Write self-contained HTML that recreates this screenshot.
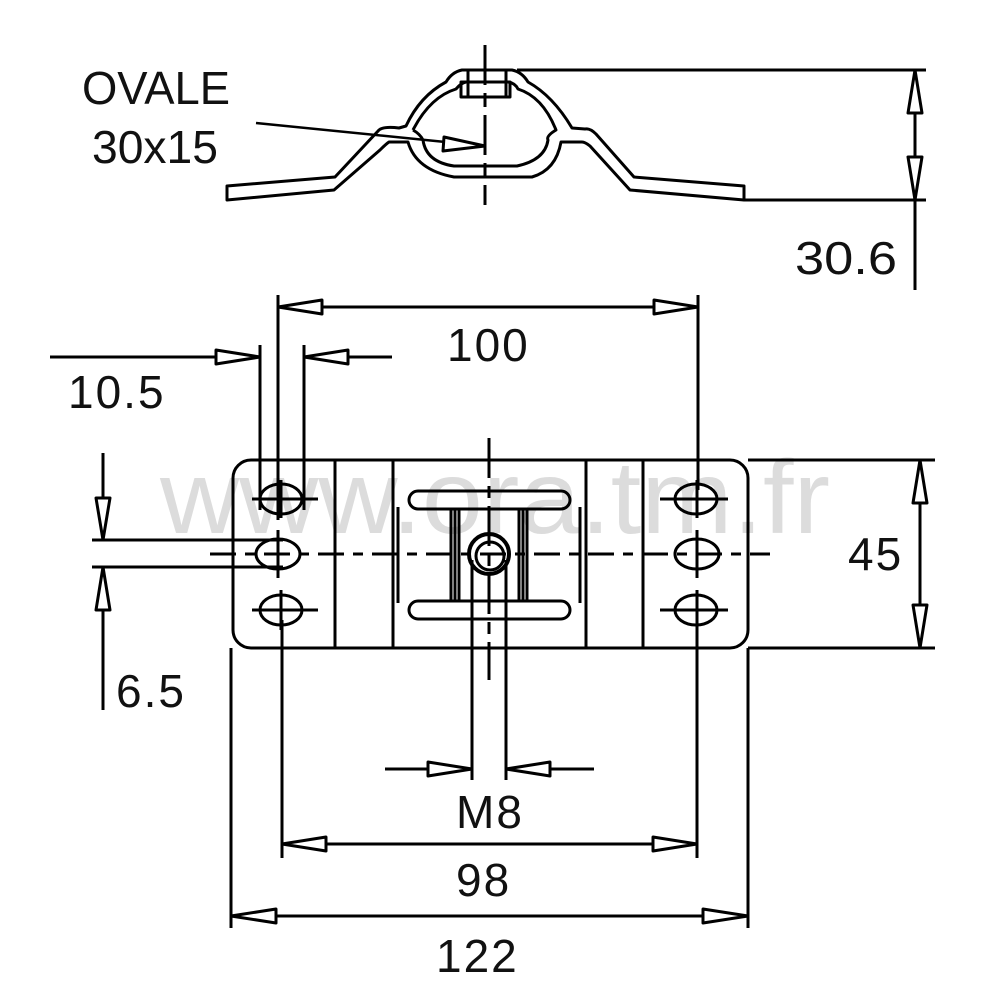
<!DOCTYPE html>
<html><head><meta charset="utf-8"><style>
html,body{margin:0;padding:0;background:#fff;}
svg{display:block;}
text{font-family:"Liberation Sans",sans-serif;font-size:46px;fill:#111;}
</style></head><body>
<svg width="1000" height="1000" viewBox="0 0 1000 1000" xmlns="http://www.w3.org/2000/svg">
<text x="160" y="533" textLength="670" lengthAdjust="spacingAndGlyphs" style="font-size:104px;fill:#dcdcdc">www.ora.tm.fr</text>
<g fill="none" stroke="#000" stroke-width="3" stroke-linejoin="round">
<path d="M227,186 L335,177 L379,130 Q384,126 399,128 L406,126 Q420,96 446,82 Q452,72 462,70 L512,70 Q522,72 528,82 Q553,96 572,128 L585,129 Q590,128 596,134 L634,177 L744,186 L744,200 L630,190 L590,146 Q585,142 582,142 L561,142 Q556,170 532,177 L454,177 Q416,170 408,142 L389,142 Q386,144 380,150 L334,190 L227,200 Z"/>
<path d="M413,130 Q430,97 456,89 Q461,83 466,82 L508,82 Q515,83 518,89 Q543,97 556,130 Q546,136 548,140 Q545,160 517,166 L454,166 Q426,162 423,140 Q420,134 413,130"/>
<rect x="461" y="82" width="49" height="15"/>
<line x1="468" y1="70" x2="468" y2="97"/><line x1="506" y1="70" x2="506" y2="97"/>
<line x1="485" y1="45" x2="485" y2="205" stroke-dasharray="40,8,14,8"/>
<line x1="256" y1="123" x2="485" y2="146" stroke-width="2.5"/>
<polygon points="485,146 444,137 443,151" fill="#fff"/>
<line x1="517" y1="70" x2="926" y2="70"/>
<line x1="744" y1="200" x2="926" y2="200"/>
<line x1="915" y1="70" x2="915" y2="290"/>
<polygon points="915,70 908,113 922,113" fill="#fff"/>
<polygon points="915,200 908,157 922,157" fill="#fff"/>
<rect x="233" y="460" width="515" height="188" rx="18"/>
<line x1="335" y1="460" x2="335" y2="648"/><line x1="393" y1="460" x2="393" y2="648"/>
<line x1="586" y1="460" x2="586" y2="648"/><line x1="643" y1="460" x2="643" y2="648"/>
<line x1="398" y1="507" x2="398" y2="603"/><line x1="580" y1="507" x2="580" y2="603"/>
<rect x="409" y="491" width="161" height="18" rx="9"/>
<rect x="409" y="601" width="161" height="18" rx="9"/>
<line x1="451" y1="509" x2="451" y2="601"/><line x1="455" y1="509" x2="455" y2="601"/><line x1="459" y1="509" x2="459" y2="601"/>
<line x1="519" y1="509" x2="519" y2="601"/><line x1="523" y1="509" x2="523" y2="601"/><line x1="527" y1="509" x2="527" y2="601"/>
<circle cx="489" cy="554" r="20" stroke-width="4" fill="#fff"/>
<circle cx="490" cy="556" r="14"/>
<g>
<ellipse cx="281" cy="499" rx="21" ry="15"/><ellipse cx="278" cy="554" rx="22" ry="15"/><ellipse cx="281" cy="610" rx="21" ry="15"/>
<ellipse cx="696" cy="499" rx="21" ry="15"/><ellipse cx="697" cy="554" rx="22" ry="15"/><ellipse cx="696" cy="610" rx="21" ry="15"/>
<line x1="252" y1="499" x2="318" y2="499"/><line x1="252" y1="610" x2="318" y2="610"/>
<line x1="660" y1="499" x2="728" y2="499"/><line x1="660" y1="610" x2="728" y2="610"/>
<line x1="281" y1="480" x2="281" y2="518"/><line x1="281" y1="590" x2="281" y2="630"/>
<line x1="697" y1="480" x2="697" y2="518"/><line x1="697" y1="590" x2="697" y2="630"/>
<line x1="278" y1="530" x2="278" y2="578"/><line x1="697" y1="530" x2="697" y2="578"/>
</g>
<line x1="210" y1="554" x2="770" y2="554" stroke-dasharray="26,9,10,9"/>
<line x1="489" y1="438" x2="489" y2="680" stroke-dasharray="40,8,12,8"/>
<line x1="278" y1="295" x2="278" y2="520"/><line x1="698" y1="295" x2="698" y2="490"/>
<line x1="278" y1="307" x2="698" y2="307"/>
<polygon points="278,307 322,300 322,314" fill="#fff"/>
<polygon points="698,307 654,300 654,314" fill="#fff"/>
<line x1="260" y1="345" x2="260" y2="510"/><line x1="304" y1="345" x2="304" y2="510"/>
<line x1="50" y1="357" x2="260" y2="357"/><line x1="304" y1="357" x2="392" y2="357"/>
<polygon points="260,357 216,350 216,364" fill="#fff"/>
<polygon points="304,357 348,350 348,364" fill="#fff"/>
<line x1="92" y1="540" x2="283" y2="540"/><line x1="92" y1="567" x2="283" y2="567"/>
<line x1="103" y1="453" x2="103" y2="540"/><line x1="103" y1="567" x2="103" y2="710"/>
<polygon points="103,540 96,498 110,498" fill="#fff"/>
<polygon points="103,567 96,610 110,610" fill="#fff"/>
<line x1="748" y1="460" x2="935" y2="460"/><line x1="748" y1="648" x2="935" y2="648"/>
<line x1="920" y1="460" x2="920" y2="648"/>
<polygon points="920,460 913,503 927,503" fill="#fff"/>
<polygon points="920,648 913,605 927,605" fill="#fff"/>
<line x1="472" y1="560" x2="472" y2="780"/><line x1="506" y1="560" x2="506" y2="780"/>
<line x1="385" y1="769" x2="472" y2="769"/><line x1="506" y1="769" x2="594" y2="769"/>
<polygon points="472,769 428,762 428,776" fill="#fff"/>
<polygon points="506,769 550,762 550,776" fill="#fff"/>
<line x1="282" y1="620" x2="282" y2="858"/><line x1="697" y1="620" x2="697" y2="858"/>
<line x1="282" y1="844" x2="697" y2="844"/>
<polygon points="282,844 326,837 326,851" fill="#fff"/>
<polygon points="697,844 653,837 653,851" fill="#fff"/>
<line x1="231" y1="648" x2="231" y2="928"/><line x1="748" y1="648" x2="748" y2="928"/>
<line x1="231" y1="916" x2="748" y2="916"/>
<polygon points="231,916 276,909 276,923" fill="#fff"/>
<polygon points="748,916 703,909 703,923" fill="#fff"/>
</g>
<text x="82" y="104" textLength="148" lengthAdjust="spacingAndGlyphs">OVALE</text>
<text x="92" y="163" textLength="126" lengthAdjust="spacingAndGlyphs">30x15</text>
<text x="795" y="274" textLength="102" lengthAdjust="spacingAndGlyphs">30.6</text>
<text x="447" y="361" style="letter-spacing:2px">100</text>
<text x="68" y="408" style="letter-spacing:2px">10.5</text>
<text x="116" y="707" style="letter-spacing:2px">6.5</text>
<text x="848" y="570" style="letter-spacing:2px">45</text>
<text x="456" y="828" style="letter-spacing:2px">M8</text>
<text x="456" y="896" style="letter-spacing:2px">98</text>
<text x="436" y="972" style="letter-spacing:2px">122</text>
</svg>
</body></html>
